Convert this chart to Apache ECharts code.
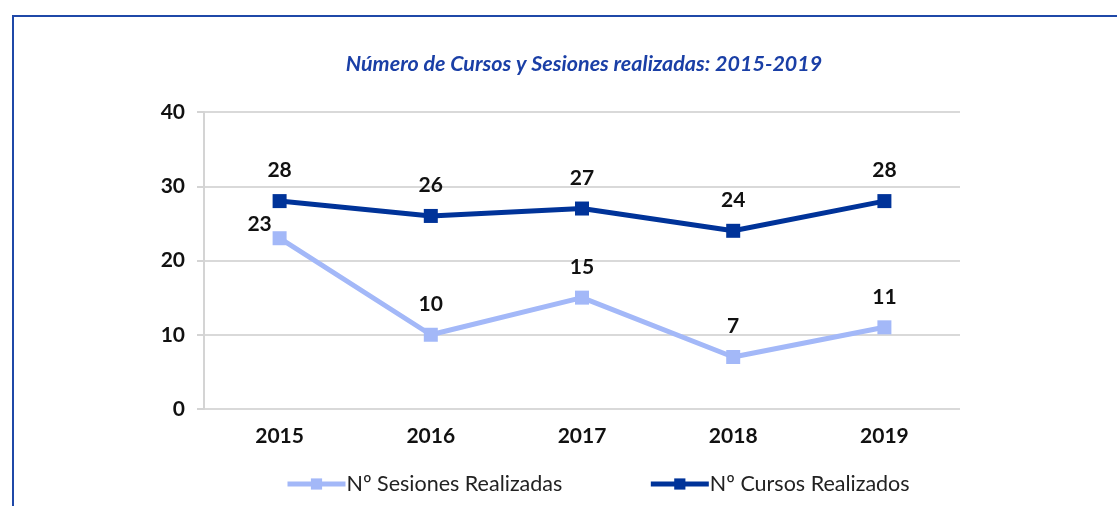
<!DOCTYPE html>
<html>
<head>
<meta charset="utf-8">
<script src="https://cdn.jsdelivr.net/npm/echarts@6/dist/echarts.min.js"></script>
<style>
  html, body { margin: 0; padding: 0; background: #fff; }
  #frame { position: absolute; left: 12px; top: 15px; width: 1120px; height: 500px; border: 2px solid #1f48a8; box-sizing: border-box; }
  #chart { position: absolute; left: 0; top: 0; width: 1117px; height: 506px; }
</style>
</head>
<body>
<div id="frame"></div>
<div id="chart"></div>
<script>
const years = ["2015", "2016", "2017", "2018", "2019"];
const sesiones = [23, 10, 15, 7, 11];
const cursos = [28, 26, 27, 24, 28];

const chart = echarts.init(document.getElementById("chart"));
const labelStyle = {
  show: true,
  position: "top",
  distance: 13,
  fontFamily: "Lato",
  fontWeight: "bold",
  fontSize: 21,
  color: "#111"
};
chart.setOption({
  animation: false,
  title: {
    text: "Número de Cursos y Sesiones realizadas: 2015-2019",
    left: 579,
    textAlign: "center",
    top: 48,
    textStyle: { fontFamily: "Lato", fontStyle: "italic", fontWeight: "bold", fontSize: 21.5, color: "#1a3fa6" }
  },
  grid: { left: 204, right: 157, top: 112, bottom: 97 },
  legend: {
    bottom: 11,
    left: 285,
    padding: 0,
    itemGap: 86,
    itemWidth: 58,
    itemHeight: 14,
    textStyle: { fontFamily: "Lato", fontSize: 21.5, color: "#222", padding: [0, 0, 0, -4] },
    data: [
      { name: "Nº Sesiones Realizadas", lineStyle: { width: 5, color: "#a3b8f8" } },
      { name: "Nº Cursos Realizados", lineStyle: { width: 5, color: "#003399" } }
    ]
  },
  xAxis: {
    type: "category",
    data: years,
    axisLine: { show: false },
    axisTick: { show: false },
    axisLabel: { margin: 17, fontFamily: "Lato", fontWeight: "bold", fontSize: 21, color: "#111" }
  },
  yAxis: {
    type: "value",
    min: 0,
    max: 40,
    interval: 10,
    axisLine: { show: true, lineStyle: { color: "#d4d4d4", width: 2 } },
    axisTick: { show: true, length: 7, lineStyle: { color: "#d4d4d4", width: 2 } },
    splitLine: { lineStyle: { color: "#d9d9d9", width: 2 } },
    axisLabel: { margin: 19, fontFamily: "Lato", fontWeight: "bold", fontSize: 21, color: "#111" }
  },
  series: [
    {
      name: "Nº Sesiones Realizadas",
      type: "line",
      data: sesiones,
      symbol: "rect",
      symbolSize: 14,
      lineStyle: { width: 5, color: "#a3b8f8" },
      itemStyle: { color: "#a3b8f8" },
      label: labelStyle,
      labelLayout: p => p.dataIndex === 0 ? { dx: -20, dy: 17 } : {}
    },
    {
      name: "Nº Cursos Realizados",
      type: "line",
      data: cursos,
      symbol: "rect",
      symbolSize: 14,
      lineStyle: { width: 5, color: "#003399" },
      itemStyle: { color: "#003399" },
      label: labelStyle
    }
  ]
});
</script>
</body>
</html>
